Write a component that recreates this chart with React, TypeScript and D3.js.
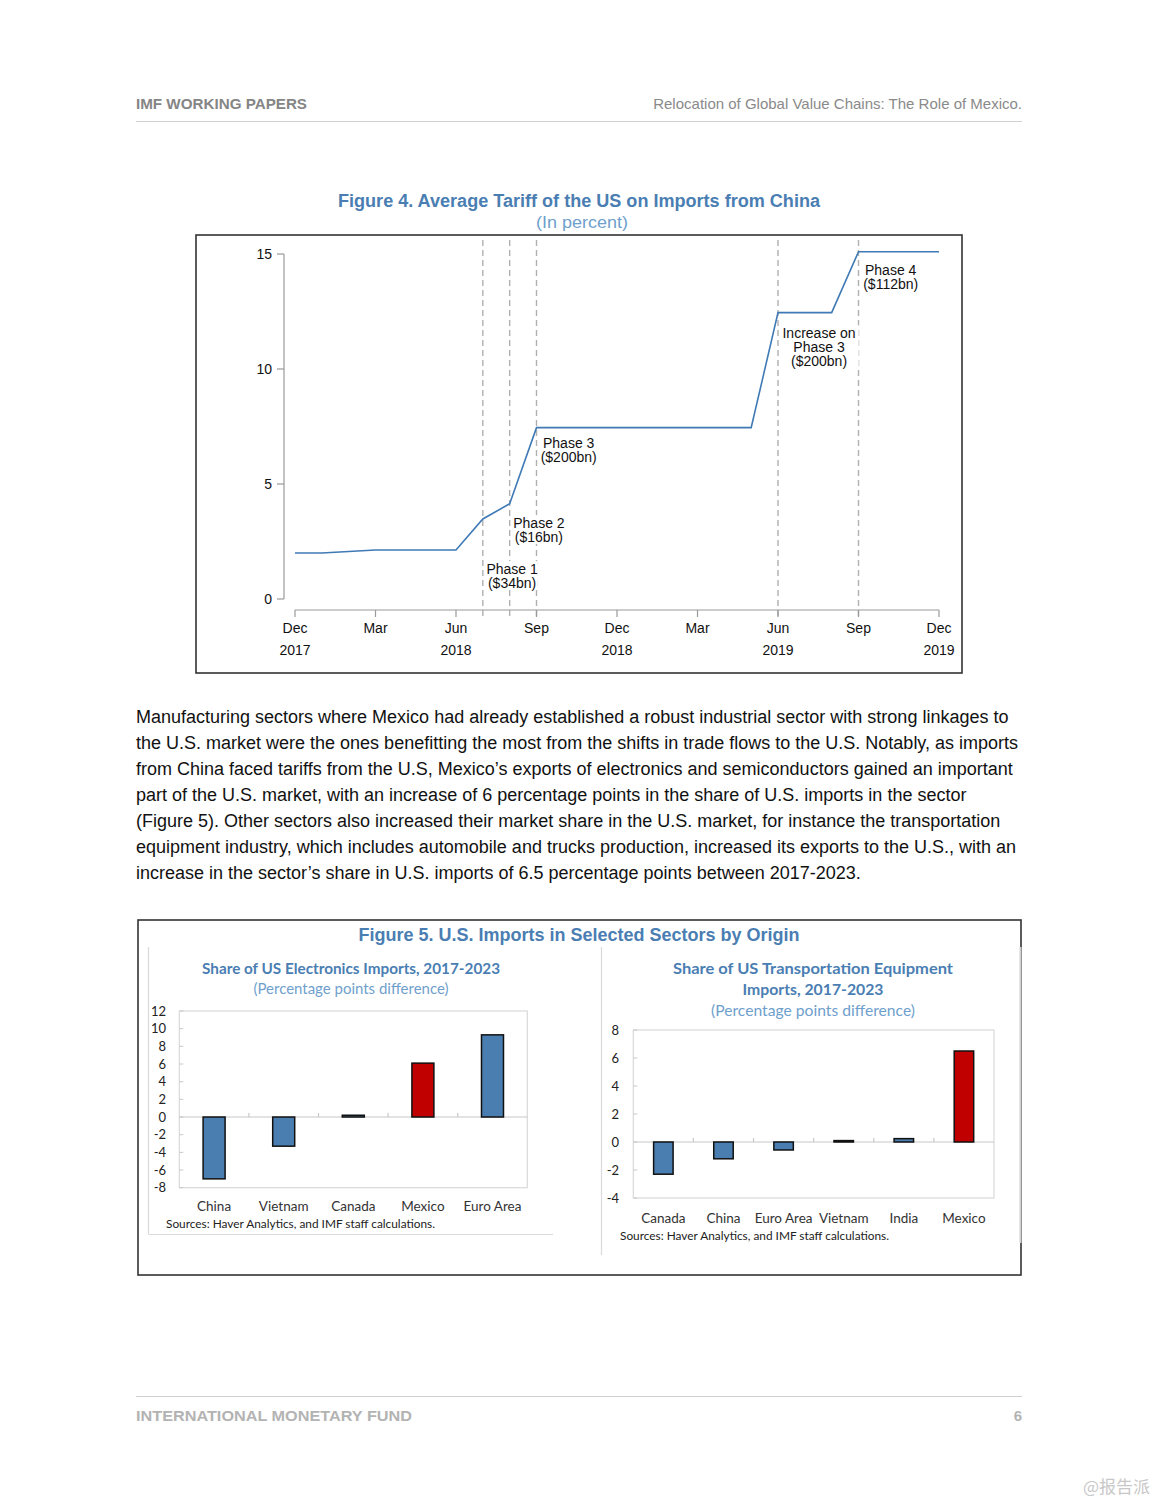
import React from "react";
import * as d3 from "d3";

// ---------- Figure 4 data ----------
const tariffDates = ["Dec 2017", "Jan 2018", "Mar 2018", "Jun 2018", "Jul 2018", "Aug 2018", "Sep 2018", "May 2019", "Jun 2019", "Aug 2019", "Sep 2019", "Dec 2019"];
const tariffValues = [2.0, 2.0, 2.13, 2.13, 3.48, 4.14, 7.45, 7.45, 12.45, 12.45, 15.1, 15.1];
const eventDates = ["Jul 2018", "Aug 2018", "Sep 2018", "Jun 2019", "Sep 2019"];
const monthTickLabels = ["Dec", "Mar", "Jun", "Sep", "Dec", "Mar", "Jun", "Sep", "Dec"];
const yearTickLabels = ["2017", "", "2018", "", "2018", "", "2019", "", "2019"];
const tariffYTicks = [0, 5, 10, 15];
const annotations = [
  { date: "Aug 2018", shift: 0.09, value: 1.3, lines: ["Phase 1", "($34bn)"] },
  { date: "Sep 2018", shift: 0.09, value: 3.3, lines: ["Phase 2", "($16bn)"] },
  { date: "Oct 2018", shift: 0.2, value: 6.78, lines: ["Phase 3", "($200bn)"] },
  { date: "Jul 2019", shift: 0.53, value: 11.57, lines: ["Increase on", "Phase 3", "($200bn)"] },
  { date: "Oct 2019", shift: 0.2, value: 14.3, lines: ["Phase 4", "($112bn)"] },
];

// ---------- Figure 5 data ----------
const elecCategories = ["China", "Vietnam", "Canada", "Mexico", "Euro Area"];
const elecValues = [-7.0, -3.3, 0.2, 6.1, 9.3];
const elecTicks = [-8, -6, -4, -2, 0, 2, 4, 6, 8, 10, 12];
const transCategories = ["Canada", "China", "Euro Area", "Vietnam", "India", "Mexico"];
const transValues = [-2.3, -1.2, -0.57, 0.1, 0.24, 6.5];
const transTicks = [-4, -2, 0, 2, 4, 6, 8];
const highlight = "Mexico";

// ---------- Text ----------
const paragraphLines = [
  "Manufacturing sectors where Mexico had already established a robust industrial sector with strong linkages to",
  "the U.S. market were the ones benefitting the most from the shifts in trade flows to the U.S. Notably, as imports",
  "from China faced tariffs from the U.S, Mexico\u2019s exports of electronics and semiconductors gained an important",
  "part of the U.S. market, with an increase of 6 percentage points in the share of U.S. imports in the sector",
  "(Figure 5). Other sectors also increased their market share in the U.S. market, for instance the transportation",
  "equipment industry, which includes automobile and trucks production, increased its exports to the U.S., with an",
  "increase in the sector\u2019s share in U.S. imports of 6.5 percentage points between 2017-2023.",
];

const ARIAL = "'Liberation Sans', Arial, sans-serif";
const CAL = "Lato, 'Open Sans', sans-serif";
const BLUE = "#4a7eb3";
const LIGHTBLUE = "#6f9fcd";
const BAR = "#4a7eb0";
const RED = "#c00000";

const parse = d3.timeParse("%b %Y");
const start = parse("Dec 2017") as Date;
const monthIdx = (s: string) => d3.timeMonth.count(start, parse(s) as Date);

function Figure4() {
  const x = d3.scaleLinear().domain([0, 24]).range([295, 939]);
  const y = d3.scaleLinear().domain([0, 15]).range([599, 254]);
  const pts: [number, number][] = tariffDates.map((d, i) => [monthIdx(d), tariffValues[i]]);
  const line = d3.line<[number, number]>().x((d) => x(d[0])).y((d) => y(d[1]));
  const xTicks = d3.range(0, 25, 3);
  return (
    <g fontFamily={ARIAL}>
      <text x={579} y={207} textAnchor="middle" fontSize={17.5} fontWeight="bold" fill={BLUE} textLength={482} lengthAdjust="spacingAndGlyphs">
        Figure 4. Average Tariff of the US on Imports from China
      </text>
      <text x={582} y={228} textAnchor="middle" fontSize={17} fill={LIGHTBLUE} textLength={92} lengthAdjust="spacingAndGlyphs">
        (In percent)
      </text>
      <rect x={196} y={235} width={766} height={438} fill="white" stroke="#333" strokeWidth={1.6} />
      {eventDates.map((d) => (
        <line key={d} x1={x(monthIdx(d))} x2={x(monthIdx(d))} y1={240} y2={617} stroke="#b0b0b0" strokeWidth={1.4} strokeDasharray="6,4" />
      ))}
      <line x1={284} x2={284} y1={y(15)} y2={y(0)} stroke="#9a9a9a" strokeWidth={1.2} />
      {tariffYTicks.map((t) => (
        <g key={t}>
          <line x1={277} x2={284} y1={y(t)} y2={y(t)} stroke="#9a9a9a" strokeWidth={1.2} />
          <text x={272} y={y(t) + 5} textAnchor="end" fontSize={14} fill="#111">{t}</text>
        </g>
      ))}
      <line x1={x(0)} x2={x(24)} y1={610} y2={610} stroke="#9a9a9a" strokeWidth={1.2} />
      {xTicks.map((m, i) => (
        <g key={m}>
          <line x1={x(m)} x2={x(m)} y1={610} y2={617} stroke="#9a9a9a" strokeWidth={1.2} />
          <text x={x(m)} y={633} textAnchor="middle" fontSize={14} fill="#111">{monthTickLabels[i]}</text>
          {yearTickLabels[i] && (
            <text x={x(m)} y={655} textAnchor="middle" fontSize={14} fill="#111">{yearTickLabels[i]}</text>
          )}
        </g>
      ))}
      <path d={line(pts) || ""} fill="none" stroke="#3f7ab5" strokeWidth={1.6} />
      {annotations.map((a) => {
        const cx = x(monthIdx(a.date) + a.shift - 1 + 1);
        const cy = y(a.value);
        const w = Math.max(...a.lines.map((l) => l.length)) * 7.2;
        return (
          <g key={a.lines.join()}>
            <rect x={cx - w / 2} y={cy - 8} width={w} height={a.lines.length * 14 + 1} fill="white" />
            {a.lines.map((l, j) => (
              <text key={j} x={cx} y={cy + 5 + j * 14} textAnchor="middle" fontSize={14} fill="#111">{l}</text>
            ))}
          </g>
        );
      })}
    </g>
  );
}

type BarProps = {
  cats: string[]; vals: number[]; ticks: number[];
  x0: number; x1: number; yTop: number; yBot: number; pad: number;
  labelX: number; catY: number; srcX: number; srcY: number;
};

function BarChart(p: BarProps) {
  const x = d3.scaleBand<string>().domain(p.cats).range([p.x0, p.x1]).paddingInner(p.pad).paddingOuter(p.pad / 2);
  const dom = d3.extent(p.ticks) as [number, number];
  const y = d3.scaleLinear().domain(dom).range([p.yBot, p.yTop]);
  const step = x.step();
  return (
    <g fontFamily={CAL}>
      <rect x={p.x0} y={p.yTop} width={p.x1 - p.x0} height={p.yBot - p.yTop} fill="white" stroke="#d9d9d9" strokeWidth={1.2} />
      <line x1={p.x0} x2={p.x1} y1={y(0)} y2={y(0)} stroke="#c8c8c8" strokeWidth={1.2} />
      {d3.range(1, p.cats.length).map((i) => (
        <line key={i} x1={p.x0 + i * step} x2={p.x0 + i * step} y1={y(0)} y2={y(0) - 4} stroke="#c8c8c8" strokeWidth={1.2} />
      ))}
      {p.ticks.map((t) => (
        <g key={t}>
          <line x1={p.x0} x2={p.x0 + 4} y1={y(t)} y2={y(t)} stroke="#c8c8c8" strokeWidth={1} />
          <text x={p.labelX} y={y(t) + 4.5} textAnchor="end" fontSize={13} fill="#222">{t}</text>
        </g>
      ))}
      {p.cats.map((c, i) => {
        const v = p.vals[i];
        return (
          <rect key={c} x={x(c)} y={y(Math.max(0, v))} width={x.bandwidth()} height={Math.abs(y(v) - y(0))}
            fill={c === highlight ? RED : BAR} stroke="#111" strokeWidth={1.5} />
        );
      })}
      {p.cats.map((c) => (
        <text key={c} x={(x(c) as number) + x.bandwidth() / 2} y={p.catY} textAnchor="middle" fontSize={13.5} fill="#333">{c}</text>
      ))}
      <text x={p.srcX} y={p.srcY} fontSize={12} fill="#222" textLength={269} lengthAdjust="spacingAndGlyphs">
        Sources: Haver Analytics, and IMF staff calculations.
      </text>
    </g>
  );
}

function Figure5() {
  return (
    <g>
      <rect x={138} y={920} width={883} height={355} fill="white" stroke="#333" strokeWidth={1.6} />
      <line x1={1020.5} x2={1020.5} y1={947} y2={1243} stroke="#d0d0d0" strokeWidth={2} />
      <line x1={601.5} x2={601.5} y1={947} y2={1255} stroke="#d9d9d9" strokeWidth={1.2} />
      <line x1={148.5} x2={148.5} y1={947} y2={1234} stroke="#d9d9d9" strokeWidth={1.2} />
      <line x1={148.5} x2={553} y1={1234.5} y2={1234.5} stroke="#d9d9d9" strokeWidth={1.2} />
      <text x={579} y={941} textAnchor="middle" fontFamily={ARIAL} fontSize={17.5} fontWeight="bold" fill={BLUE} textLength={441} lengthAdjust="spacingAndGlyphs">
        Figure 5. U.S. Imports in Selected Sectors by Origin
      </text>
      <g fontFamily={CAL}>
        <text x={351} y={974} textAnchor="middle" fontSize={15} fontWeight="bold" fill={BLUE} textLength={298} lengthAdjust="spacingAndGlyphs">
          Share of US Electronics Imports, 2017-2023
        </text>
        <text x={351} y={994} textAnchor="middle" fontSize={15} fill={LIGHTBLUE} textLength={195} lengthAdjust="spacingAndGlyphs">
          (Percentage points difference)
        </text>
        <text x={813} y={974} textAnchor="middle" fontSize={15} fontWeight="bold" fill={BLUE} textLength={280} lengthAdjust="spacingAndGlyphs">
          Share of US Transportation Equipment
        </text>
        <text x={813} y={995} textAnchor="middle" fontSize={15} fontWeight="bold" fill={BLUE} textLength={141} lengthAdjust="spacingAndGlyphs">
          Imports, 2017-2023
        </text>
        <text x={813} y={1016} textAnchor="middle" fontSize={15} fill={LIGHTBLUE} textLength={204} lengthAdjust="spacingAndGlyphs">
          (Percentage points difference)
        </text>
      </g>
      <BarChart cats={elecCategories} vals={elecValues} ticks={elecTicks}
        x0={179.3} x1={527.3} yTop={1011} yBot={1187.7} pad={0.684}
        labelX={166} catY={1211} srcX={166} srcY={1228} />
      <BarChart cats={transCategories} vals={transValues} ticks={transTicks}
        x0={633.3} x1={994} yTop={1030} yBot={1198} pad={0.676}
        labelX={619} catY={1223} srcX={620} srcY={1240} />
    </g>
  );
}

export default function App() {
  return (
    <svg width={1159} height={1500} style={{ position: "absolute", left: 0, top: 0, background: "white" }}>
      <rect x={0} y={0} width={1159} height={1500} fill="white" />
      <g fontFamily={ARIAL}>
        <text x={136} y={109} fontSize={15.2} fontWeight="bold" fill="#858585">IMF WORKING PAPERS</text>
        <text x={1022} y={109} fontSize={15} fill="#8a8a8a" textAnchor="end">Relocation of Global Value Chains: The Role of Mexico.</text>
        <line x1={136} x2={1022} y1={121.5} y2={121.5} stroke="#d0d0d0" strokeWidth={1} />
      </g>
      <Figure4 />
      <g fontFamily={ARIAL} fontSize={18} fill="#111">
        {paragraphLines.map((l, i) => (
          <text key={i} x={136} y={723 + i * 26}>{l}</text>
        ))}
      </g>
      <Figure5 />
      <g fontFamily={ARIAL}>
        <line x1={136} x2={1022} y1={1396.5} y2={1396.5} stroke="#d0d0d0" strokeWidth={1} />
        <text x={136} y={1421} fontSize={15} fontWeight="bold" fill="#b3b3b3" textLength={276} lengthAdjust="spacingAndGlyphs">INTERNATIONAL MONETARY FUND</text>
        <text x={1022} y={1421} fontSize={15} fontWeight="bold" fill="#b3b3b3" textAnchor="end">6</text>
      </g>
      <text x={1150} y={1493} textAnchor="end" fontFamily="'Noto Sans CJK SC', sans-serif" fontSize={17} fill="#c8c8c8">@报告派</text>
    </svg>
  );
}
